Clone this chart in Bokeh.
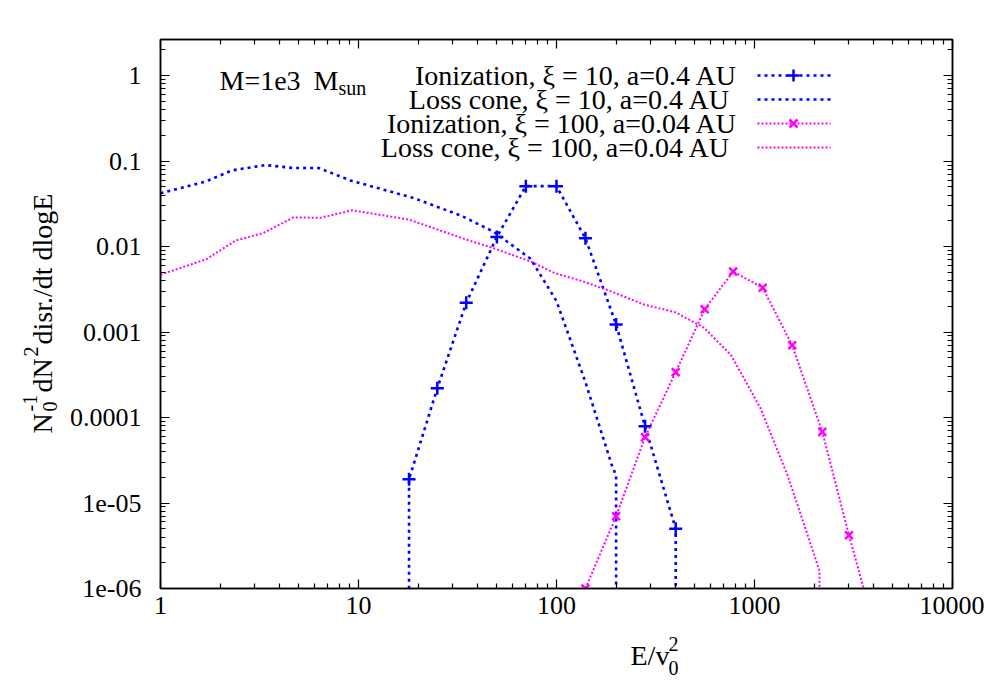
import math
from bokeh.plotting import figure
from bokeh.layouts import row, column
from bokeh.models import FixedTicker, LogAxis, Label, Arrow, Range1d
from bokeh.embed import file_html
from bokeh.resources import INLINE

# ---------------- data ----------------
ion10_E = [18, 18, 25, 35, 50, 70, 100, 140, 200, 280, 400, 400]
ion10_N = [1e-30, 1.9e-5, 2.2e-4, 2.2e-3, 0.013, 0.051, 0.051, 0.0125, 1.23e-3, 7.9e-5, 5e-6, 1e-30]

lc10_E = [1, 1.7, 2.3, 3.4, 4.7, 6.3, 9.2, 19, 33, 48, 74, 100, 140, 190, 200, 200]
lc10_N = [0.042, 0.058, 0.078, 0.09, 0.083, 0.083, 0.059, 0.037, 0.023, 0.015, 0.0072,
          0.0023, 2.6e-4, 2.8e-5, 2.1e-5, 1e-30]

ion100_E = [140, 200, 280, 400, 560, 780, 1100, 1550, 2200, 3000, 4200]
ion100_N = [1e-6, 7e-6, 5.9e-5, 3.4e-4, 1.85e-3, 5.1e-3, 3.3e-3, 7e-4, 6.8e-5, 4.2e-6, 2.5e-7]

lc100_E = [1, 1.7, 2.4, 3.3, 4.7, 6.4, 9.3, 18, 35, 48, 74, 98, 137, 188, 277, 400, 557,
           760, 1070, 1470, 2000, 2130, 2130]
lc100_N = [0.0047, 0.0071, 0.0118, 0.0144, 0.022, 0.0217, 0.0266, 0.0207, 0.0121, 0.0096,
           0.0067, 0.0049, 0.0039, 0.003, 0.0021, 0.0017, 0.00112, 5.4e-4, 1.3e-4, 2.1e-5,
           2.5e-6, 1.6e-6, 1e-30]

legend_texts = ["Ionization, ξ = 10, a=0.4 AU",
                "Loss cone,  ξ = 10, a=0.4 AU",
                "Ionization, ξ = 100, a=0.04 AU",
                "Loss cone,  ξ = 100, a=0.04 AU"]

x_ticks = [1, 10, 100, 1000, 10000]
x_tick_labels = ["1", "10", "100", "1000", "10000"]
y_ticks = [1e-06, 1e-05, 0.0001, 0.001, 0.01, 0.1, 1]
y_tick_labels = ["1e-06", "1e-05", "0.0001", "0.001", "0.01", "0.1", "1"]

X_MIN, X_MAX = 1, 10000
Y_MIN, Y_MAX = 1e-6, 2.65

# ---------------- style / layout ----------------
BLUE = "#0000ff"
MAGENTA = "#ff00ff"
FONT = "Liberation Serif"
AX_FONT = '"Liberation Serif"'
FS = 28          # legend / annotation
FS_LAB = 28      # axis titles
FS_TICK = 26
FS_SUB = 20
BLUE_DASH = "3 4"
MAG_DASH = "2 2"

W, H = 984, 684          # whole page area
LEFT_W = 60              # strip holding the rotated y title
HM = 628                 # height of the main figure
DX = -3                  # small global shift so that "10000" fits

def X(px):
    return px + DX

FL, FR, FT, FB = X(163), X(955), 39, 588      # frame position on the page

p = figure(width=W - LEFT_W, height=HM, frame_width=FR - FL, frame_height=FB - FT,
           x_axis_type="log", y_axis_type="log",
           x_range=Range1d(X_MIN, X_MAX), y_range=Range1d(Y_MIN, Y_MAX),
           output_backend="svg", toolbar_location=None,
           min_border_left=FL - LEFT_W, min_border_top=FT,
           min_border_right=W - FR, min_border_bottom=HM - FB)
p.background_fill_color = "white"
p.border_fill_color = "white"
p.outline_line_color = "black"
p.outline_line_width = 1.5
p.xgrid.visible = False
p.ygrid.visible = False

x_minor = [m * 10 ** k for k in range(0, 4) for m in range(2, 10)]
y_minor = [m * 10.0 ** k for k in range(-6, 1) for m in range(2, 10) if m * 10.0 ** k < Y_MAX]

def style_axis(ax, ticks, minor, labels, show):
    ax.ticker = FixedTicker(ticks=ticks, minor_ticks=minor)
    ax.major_tick_in = 9
    ax.major_tick_out = 0
    ax.minor_tick_in = 5
    ax.minor_tick_out = 0
    ax.axis_line_width = 1.5
    ax.major_tick_line_width = 1.2
    ax.minor_tick_line_width = 1.2
    ax.axis_line_color = "black"
    ax.major_tick_line_color = "black"
    ax.minor_tick_line_color = "black"
    ax.major_label_text_font = AX_FONT
    ax.major_label_text_font_size = f"{FS_TICK}px"
    ax.major_label_text_color = "black"
    if show:
        ax.major_label_overrides = dict(zip(ticks, labels))
    else:
        ax.major_label_text_font_size = "0px"
        ax.major_label_text_color = None

style_axis(p.xaxis[0], x_ticks, x_minor, x_tick_labels, True)
style_axis(p.yaxis[0], y_ticks, y_minor, y_tick_labels, True)
p.xaxis[0].major_label_standoff = 8
p.yaxis[0].major_label_standoff = 19

top_ax = LogAxis()
right_ax = LogAxis()
style_axis(top_ax, x_ticks, x_minor, x_tick_labels, False)
style_axis(right_ax, y_ticks, y_minor, y_tick_labels, False)
p.add_layout(top_ax, "above")
p.add_layout(right_ax, "right")

# ---------------- curves ----------------
p.line(lc10_E, lc10_N, line_color=BLUE, line_width=2.6, line_dash=BLUE_DASH)
p.line(ion10_E, ion10_N, line_color=BLUE, line_width=2.6, line_dash=BLUE_DASH)
p.scatter(ion10_E, ion10_N, marker="cross", size=13, line_color=BLUE, line_width=2.5)

p.line(lc100_E, lc100_N, line_color=MAGENTA, line_width=2.0, line_dash=MAG_DASH)
p.line(ion100_E, ion100_N, line_color=MAGENTA, line_width=2.0, line_dash=MAG_DASH)
p.scatter(ion100_E, ion100_N, marker="x", size=11, line_color=MAGENTA, line_width=2.5)

# ---------------- helper strips for the axis titles ----------------
def blank_fig(w, h):
    f = figure(width=w, height=h, x_range=Range1d(0, 1), y_range=Range1d(0, 1),
               x_axis_location=None, y_axis_location=None, output_backend="svg",
               toolbar_location=None, min_border=0,
               min_border_left=0, min_border_right=0, min_border_top=0, min_border_bottom=0)
    f.outline_line_color = None
    f.xgrid.visible = False
    f.ygrid.visible = False
    f.background_fill_color = "white"
    f.border_fill_color = "white"
    return f

left_fig = blank_fig(LEFT_W, H)
bottom_fig = blank_fig(W - LEFT_W, H - HM)

def label(target, x, y, s, size, align="left", baseline="middle", angle=0.0):
    target.add_layout(Label(x=x, y=y, x_units="screen", y_units="screen", text=s,
                            text_font=FONT, text_font_size=f"{size}px", text_color="black",
                            text_align=align, text_baseline=baseline, angle=angle))

def text_main(px, py, s, size=FS, align="left"):
    label(p, X(px) - FL, FB - py, s, size, align)

def text_left(px, py, s, size, angle, baseline="alphabetic"):
    label(left_fig, X(px), H - py, s, size, "left", baseline, angle)

def text_bottom(px, py, s, size):
    label(bottom_fig, X(px) - LEFT_W, H - py, s, size)

def seg(x0, y0, x1, y1, color, width, dash):
    p.add_layout(Arrow(x_start=X(x0) - FL, y_start=FB - y0, x_end=X(x1) - FL, y_end=FB - y1,
                       start_units="screen", end_units="screen", start=None, end=None,
                       line_color=color, line_width=width, line_dash=dash))

# ---------------- legend (gnuplot style: text right-aligned, sample to its right) -----
rows_y = [75, 99, 123, 147]
styles = [(BLUE, 2.6, BLUE_DASH, "+"), (BLUE, 2.6, BLUE_DASH, None),
          (MAGENTA, 2.0, MAG_DASH, "x"), (MAGENTA, 2.0, MAG_DASH, None)]
for txt, ry, (col, lw, dash, mk) in zip(legend_texts, rows_y, styles):
    text_main(740, ry, txt, align="right")
    seg(760, ry, 833, ry, col, lw, dash)
    if mk == "+":
        seg(790, ry, 802, ry, col, 2.5, "solid")
        seg(796, ry - 6, 796, ry + 6, col, 2.5, "solid")
    elif mk == "x":
        seg(792, ry - 4, 800, ry + 4, col, 2.5, "solid")
        seg(792, ry + 4, 800, ry - 4, col, 2.5, "solid")

# ---------------- annotation M=1e3  M_sun ----------------
text_main(222, 80, "M=1e3")
text_main(316, 80, "M")
text_main(341, 87, "sun", size=FS_SUB)

# ---------------- x axis title E/v0^2 ----------------
text_bottom(533, 655, "E/v", FS_LAB)
text_bottom(571, 667, "0", FS_SUB)
text_bottom(571, 643, "2", FS_SUB)

# ---------------- y axis title N0^-1 dN^2 disr./dt dlogE (rotated) ----------------
ang = math.pi / 2
text_left(45, 433, "N", FS_LAB, ang)
text_left(52, 411, "0", FS_SUB, ang)
text_left(32, 411, "-1", FS_SUB, ang)
text_left(45, 392, "dN", FS_LAB, ang)
text_left(33, 356, "2", FS_SUB, ang)
text_left(45, 344, "disr./dt dlogE", FS_LAB, ang)

layout = row(left_fig, column(p, bottom_fig))
open("out.html", "w").write(file_html(layout, INLINE))
